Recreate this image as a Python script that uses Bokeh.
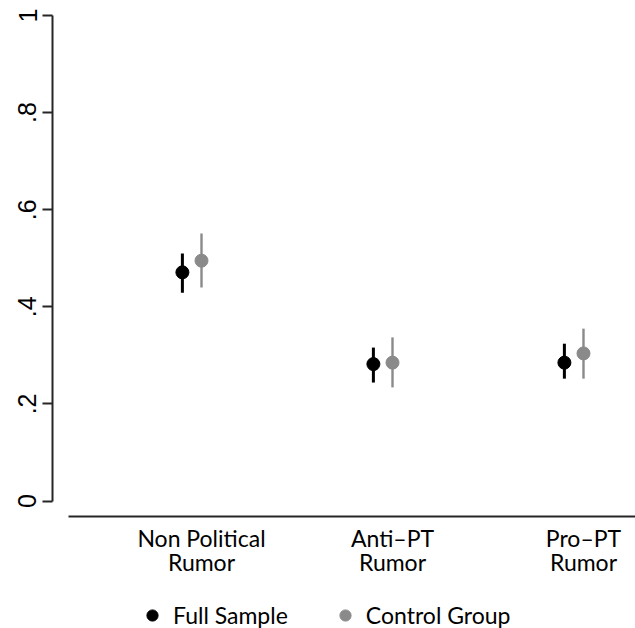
from bokeh.plotting import figure
from bokeh.models import ColumnDataSource, Range1d, FixedTicker, Legend, LegendItem
from bokeh.transform import dodge
from bokeh.embed import file_html
from bokeh.resources import INLINE

categories = ["Non Political\nRumor", "Anti\u2013PT\nRumor", "Pro\u2013PT\nRumor"]
full_est = [0.471, 0.282, 0.285]
full_lo = [0.429, 0.244, 0.252]
full_hi = [0.510, 0.316, 0.324]
ctrl_est = [0.495, 0.285, 0.304]
ctrl_lo = [0.440, 0.234, 0.252]
ctrl_hi = [0.551, 0.337, 0.355]
y_ticks = [0, 0.2, 0.4, 0.6, 0.8, 1.0]
y_tick_labels = ["0", ".2", ".4", ".6", ".8", "1"]
series_names = ["Full Sample", "Control Group"]

BLACK = "#000000"
GRAY = "#8a8a8a"
AXIS = "#262626"
FONT = "Lato"

idx = list(range(len(categories)))
src_full = ColumnDataSource(dict(x=idx, est=full_est, lo=full_lo, hi=full_hi))
src_ctrl = ColumnDataSource(dict(x=idx, est=ctrl_est, lo=ctrl_lo, hi=ctrl_hi))

p = figure(width=635, height=628, output_backend="svg", toolbar_location=None,
           x_range=Range1d(-0.7801, 2.2723), y_range=Range1d(-0.2626, 1.0),
           min_border_left=52, min_border_top=15, min_border_right=0, min_border_bottom=0)
p.grid.visible = False
p.outline_line_color = None
p.background_fill_color = "white"
p.border_fill_color = "white"

off_full = -0.1
off_ctrl = 0.0
p.segment(x0=dodge("x", off_full), x1=dodge("x", off_full), y0="lo", y1="hi", source=src_full,
          line_color=BLACK, line_width=3)
p.segment(x0=dodge("x", off_ctrl), x1=dodge("x", off_ctrl), y0="lo", y1="hi", source=src_ctrl,
          line_color=GRAY, line_width=2.4)
r1 = p.scatter(x=dodge("x", off_full), y="est", source=src_full, size=13,
               fill_color=BLACK, line_color=BLACK)
r2 = p.scatter(x=dodge("x", off_ctrl), y="est", source=src_ctrl, size=13,
               fill_color=GRAY, line_color=GRAY)

# y axis
ya = p.yaxis[0]
ya.ticker = FixedTicker(ticks=y_ticks)
ya.major_label_overrides = {t: l for t, l in zip(y_ticks, y_tick_labels)}
ya.bounds = (0, 1)
ya.major_label_orientation = "vertical"
ya.major_label_text_font = "Liberation Sans"
ya.major_label_text_font_size = "25px"
ya.major_label_text_color = "#000000"
ya.major_label_standoff = 6
ya.major_tick_out = 10
ya.major_tick_in = 0
ya.minor_tick_line_color = None
ya.axis_line_width = 2
ya.major_tick_line_width = 2
ya.axis_line_color = AXIS
ya.major_tick_line_color = AXIS

# x axis (placed just below y = 0, inside the drawing area)
xa = p.xaxis[0]
xa.fixed_location = -0.0319
xa.ticker = FixedTicker(ticks=idx)
xa.major_label_overrides = {i: c for i, c in zip(idx, categories)}
xa.bounds = (-0.6963, 2.2723)
xa.major_tick_line_color = None
xa.minor_tick_line_color = None
xa.major_label_text_font = FONT
xa.major_label_text_font_size = "23px"
xa.major_label_text_line_height = 0.84
xa.major_label_text_color = "#000000"
xa.major_label_standoff = 2
xa.axis_line_width = 2
xa.axis_line_color = AXIS

legend = Legend(items=[LegendItem(label=series_names[0], renderers=[r1]),
                       LegendItem(label=series_names[1], renderers=[r2])],
                orientation="horizontal", location=(86, -1),
                glyph_width=28, glyph_height=28, label_standoff=7, spacing=43,
                padding=0, margin=0, border_line_color=None, background_fill_alpha=0,
                label_text_font=FONT, label_text_font_size="23px", label_text_color="#000000")
p.add_layout(legend, "center")

open("out.html", "w").write(file_html(p, INLINE))
